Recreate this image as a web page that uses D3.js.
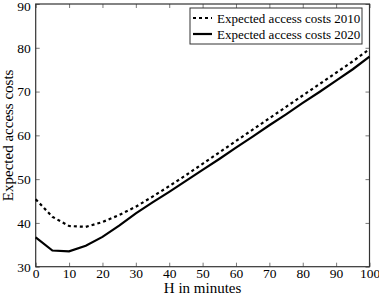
<!DOCTYPE html>
<html lang="en">
<head>
<meta charset="UTF-8">
<title>Expected access costs</title>
<script src="https://cdnjs.cloudflare.com/ajax/libs/d3/7.8.5/d3.min.js"></script>
<style>
    body { margin: 0; background: #fff; }
    svg text { font-family: 'Liberation Serif', 'DejaVu Serif', serif; fill: #000; }
</style>
</head>
<body>
<div id="chart"></div>
<script>
// minutes on the x axis
const minutes = [0, 5, 10, 15, 20, 25, 30, 35, 40, 45, 50, 55, 60, 65, 70, 75, 80, 85, 90, 95, 100];
const costs2010 = [45.4, 41.4, 39.3, 39.1, 40.2, 41.8, 43.7, 46.0, 48.4, 50.9, 53.5, 56.1, 58.7, 61.3, 63.9, 66.5, 69.1, 71.7, 74.3, 76.9, 79.7];
const costs2020 = [36.7, 33.7, 33.5, 34.8, 36.8, 39.4, 42.2, 44.7, 47.1, 49.6, 52.1, 54.6, 57.2, 59.7, 62.3, 64.8, 67.4, 69.9, 72.5, 75.1, 78.0];
const xTicks = [0, 10, 20, 30, 40, 50, 60, 70, 80, 90, 100];
const yTicks = [30, 40, 50, 60, 70, 80, 90];
const seriesNames = ["Expected access costs 2010", "Expected access costs 2020"];

const width = 379, height = 296;
const margin = { top: 4, right: 9.5, bottom: 29.3, left: 35.7 };
const w = width - margin.left - margin.right;
const h = height - margin.top - margin.bottom;

const svg = d3.select("#chart").append("svg")
    .attr("width", width)
    .attr("height", height);

const g = svg.append("g")
    .attr("transform", `translate(${margin.left},${margin.top})`);

const x = d3.scaleLinear().domain([0, 100]).range([0, w]);
const y = d3.scaleLinear().domain([30, 90]).range([h, 0]);

// axes: ticks inward on all four sides
const tickLen = 4;
g.append("g")
    .attr("transform", `translate(0,${h})`)
    .call(d3.axisBottom(x).tickValues(xTicks).tickSizeInner(-tickLen).tickSizeOuter(0).tickPadding(2))
    .call(a => a.selectAll("text").style("font-size", "13.5px"));
g.append("g")
    .call(d3.axisTop(x).tickValues(xTicks).tickSizeInner(-tickLen).tickSizeOuter(0).tickFormat(""));
g.append("g")
    .call(d3.axisLeft(y).tickValues(yTicks).tickSizeInner(-tickLen).tickSizeOuter(0).tickPadding(5))
    .call(a => a.selectAll("text").style("font-size", "13.5px"))
    .call(a => a.selectAll(".tick").filter(d => d === 90).select("text").attr("dy", "0.5em"));
g.append("g")
    .attr("transform", `translate(${w},0)`)
    .call(d3.axisRight(y).tickValues(yTicks).tickSizeInner(-tickLen).tickSizeOuter(0).tickFormat(""));
g.selectAll(".domain").remove();
g.selectAll(".tick line").attr("stroke", "#555").attr("stroke-width", 0.8);

// frame
g.append("rect")
    .attr("width", w).attr("height", h)
    .attr("fill", "none")
    .attr("stroke", "#333")
    .attr("stroke-width", 1.2);

// lines
const line = d3.line()
    .x((d, i) => x(minutes[i]))
    .y(d => y(d));

g.append("path")
    .datum(costs2010)
    .attr("d", line)
    .attr("fill", "none")
    .attr("stroke", "#000")
    .attr("stroke-width", 2.2)
    .attr("stroke-dasharray", "3,3");

g.append("path")
    .datum(costs2020)
    .attr("d", line)
    .attr("fill", "none")
    .attr("stroke", "#000")
    .attr("stroke-width", 2.2);

// axis labels
svg.append("text")
    .attr("x", margin.left + w / 2)
    .attr("y", 293)
    .attr("text-anchor", "middle")
    .style("font-size", "15px")
    .text("H in minutes");

svg.append("text")
    .attr("transform", `translate(13,${margin.top + h / 2}) rotate(-90)`)
    .attr("text-anchor", "middle")
    .style("font-size", "15px")
    .text("Expected access costs");

// legend
const legend = svg.append("g").attr("transform", "translate(190,8)");
legend.append("rect")
    .attr("width", 172).attr("height", 36)
    .attr("fill", "#fff")
    .attr("stroke", "#333")
    .attr("stroke-width", 1);
seriesNames.forEach((name, i) => {
    const row = legend.append("g").attr("transform", `translate(0,${10 + i * 16})`);
    row.append("line")
        .attr("x1", 3).attr("x2", 22)
        .attr("stroke", "#000")
        .attr("stroke-width", 2.2)
        .attr("stroke-dasharray", i === 0 ? "3,3" : null);
    row.append("text")
        .attr("x", 27)
        .attr("dy", "0.35em")
        .style("font-size", "13px")
        .text(name);
});
</script>
</body>
</html>
